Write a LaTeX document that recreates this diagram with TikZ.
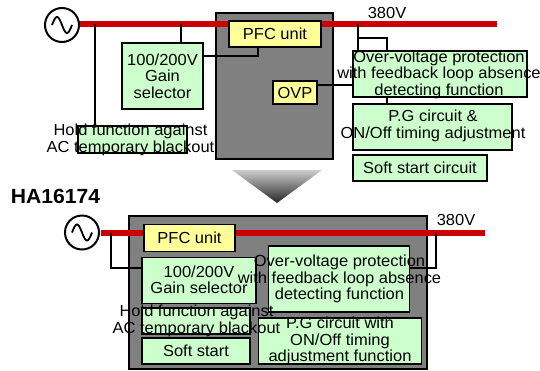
\documentclass[tikz,border=0pt]{standalone}
\usepackage{fontspec}
\setmainfont[FakeStretch=1.03]{Liberation Sans}
\definecolor{BoxGreen}{HTML}{CCFFCC}
\definecolor{BoxYellow}{HTML}{FFFF99}
\definecolor{BusRed}{HTML}{CC0000}
\definecolor{CaseGray}{HTML}{808080}
\tikzset{
    boxgreen/.style={draw, fill=BoxGreen, line width=1.5pt, inner sep=0pt},
    boxyellow/.style={draw, fill=BoxYellow, line width=1.5pt, inner sep=0pt},
    casebox/.style={draw, fill=CaseGray, line width=1.5pt, inner sep=0pt},
    dim/.style 2 args={minimum width=#1pt, minimum height=#2pt},
    txt/.style={align=center, inner sep=0pt, font=\fontsize{16}{16.5}\selectfont},
    wire/.style={line width=1.5pt},
    bus/.style={draw=BusRed, line width=5.5pt},
    source/.style={draw, fill=white, circle, line width=2pt, minimum size=34pt, inner sep=0pt},
    wave/.style={line width=1.8pt}
}
\begin{document}
\begin{tikzpicture}[x=1pt, y=-1pt]
    \useasboundingbox (0,0) rectangle (540,370);

    % Upper block
    \node[casebox, dim={117}{146}] (caseA) at (274.5,86) {};
    \coordinate (busAstart) at (79,24);
    \coordinate (busAend) at (497,24);
    \draw[bus] (busAstart) -- (busAend);
    \node[source] (srcA) at (62,25) {};
    \draw[wave, shift={(srcA)}] plot[domain=-10:10, samples=30] (\x,{8*sin(18*\x)});

    \node[boxyellow, dim={92}{26}, txt] (pfcA) at (275,34) {PFC unit};
    \node[boxgreen, dim={81}{66}] (gainA) at (162.5,76) {};
    \node[boxgreen, dim={109}{27}] (holdA) at (132.5,139.5) {};
    \node[boxyellow, dim={44}{23}, txt] (ovpA) at (295,92.5) {OVP};
    \node[boxgreen, dim={174}{46}] (protA) at (440,74) {};
    \node[boxgreen, dim={159}{46}] (pgA) at (432.5,127) {};
    \node[boxgreen, dim={134}{26}, txt] (softA) at (420,168) {Soft start circuit};

    % Upper wires
    \coordinate (tapA) at (95,24);
    \coordinate (tapB) at (181,24);
    \coordinate (tapC) at (358,24);
    \coordinate (tapD) at (387,38);
    \draw[wire] (tapA) -- (tapA |- holdA.north);
    \draw[wire] (tapB) -- (tapB |- gainA.north);
    \draw[wire] (gainA.east |- 0,56) -| (258,0 |- pfcA.south);
    \draw[wire] (ovpA.east |- 0,85) -- (protA.west |- 0,85);
    \draw[wire] (tapC) -- (tapC |- protA.north);
    \draw[wire] (tapC |- tapD) -- (tapD) -- (tapD |- protA.north);
    \draw[wire] (tapD |- protA.south) -- (tapD |- pgA.north);

    % Upper texts
    \node[txt] (gainAtext) at (gainA) {100/200V\\Gain\\selector};
    \node[txt] (holdAtext) at (130.5,140) {Hold function against\\AC temporary blackout};
    \node[txt] (protAtext) at (439,74.5) {Over-voltage protection\\with feedback loop absence\\detecting function};
    \node[txt] (pgAtext) at (433,126) {P.G circuit \&\\ON/Off timing adjustment};
    \node[txt] (voltA) at (387,13) {380V};

    % Down arrow
    \shade[top color=black!20, bottom color=black!85] (232,170) -- (322,170) -- (277,203) -- cycle;

    \node[font=\fontsize{20.5}{21}\selectfont\bfseries, inner sep=0pt] (chip) at (55.5,196) {HA16174};

    % Lower block
    \node[casebox, dim={298}{153}] (caseB) at (278,292.5) {};
    \coordinate (busBstart) at (101,233);
    \coordinate (busBend) at (485,233);
    \draw[bus] (busBstart) -- (busBend);
    \node[source] (srcB) at (82,232.5) {};
    \draw[wave, shift={(srcB)}] plot[domain=-10:10, samples=30] (\x,{8*sin(18*\x)});

    \node[boxyellow, dim={91}{27}, txt] (pfcB) at (189.5,238) {PFC unit};
    \node[boxgreen, dim={114}{46}] (gainB) at (199,280.5) {};
    \node[boxgreen, dim={108}{26}] (holdB) at (196,321) {};
    \node[boxgreen, dim={108}{26}, txt] (softB) at (196,351) {Soft start};
    \node[boxgreen, dim={141}{66}] (protB) at (339,279) {};
    \node[boxgreen, dim={163}{46}] (pgB) at (340,341) {};

    % Lower wires
    \coordinate (tapE) at (111,233);
    \coordinate (tapF) at (436,233);
    \draw[wire] (tapE) |- (gainB.west |- 0,268);
    \draw[wire] (tapF) |- (protB.east |- 0,268);

    % Lower texts
    \node[txt] (gainBtext) at (199,280) {100/200V\\Gain selector};
    \node[txt] (holdBtext) at (196.5,321) {Hold function against\\AC temporary blackout};
    \node[txt] (protBtext) at (339.5,279) {Over-voltage protection\\with feedback loop absence\\detecting function};
    \node[txt] (pgBtext) at (340,341) {P.G circuit with\\ON/Off timing\\adjustment function};
    \node[txt] (voltB) at (456,220) {380V};
\end{tikzpicture}
\end{document}
